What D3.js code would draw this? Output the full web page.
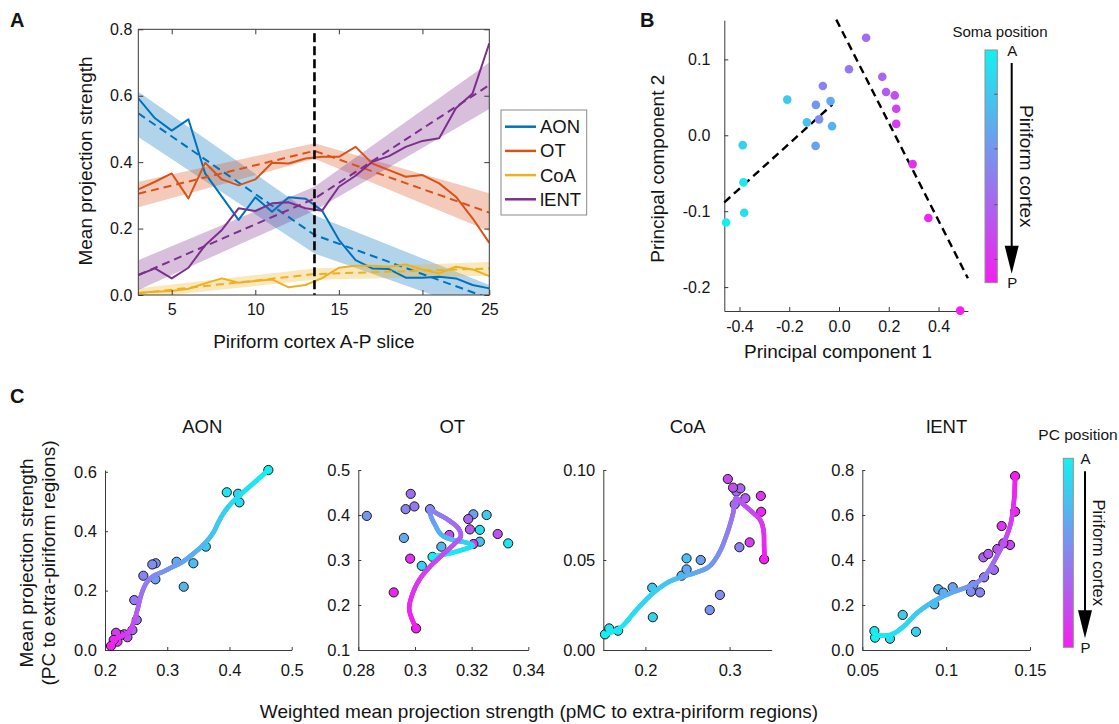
<!DOCTYPE html>
<html><head><meta charset="utf-8">
<script src="https://cdn.jsdelivr.net/npm/d3@7"></script>
<style>body{margin:0;background:#fff}svg{display:block}</style>
</head><body><svg id="fig" width="1119" height="724"></svg>
<script>
// ================= DATA =================
// Panel A: mean projection strength per piriform slice
const slices   = [3,4,5,6,7,8,9,10,11,12,13,14,15,16,17,18,19,20,21,22,23,24];
const aonMean  = [0.592,0.532,0.495,0.529,0.366,0.296,0.226,0.294,0.251,0.294,0.290,0.254,0.166,0.105,0.080,0.078,0.052,0.052,0.055,0.050,0.030,0.020];
const otMean   = [0.318,0.341,0.366,0.291,0.398,0.348,0.330,0.348,0.398,0.396,0.411,0.416,0.416,0.446,0.396,0.376,0.356,0.361,0.336,0.296,0.231,0.157];
const coaMean  = [0.007,0.010,0.012,0.019,0.035,0.050,0.037,0.042,0.047,0.023,0.030,0.051,0.082,0.088,0.088,0.085,0.092,0.077,0.065,0.085,0.077,0.057];
const lentMean = [0.060,0.080,0.050,0.082,0.150,0.196,0.261,0.253,0.276,0.279,0.261,0.254,0.326,0.359,0.401,0.418,0.446,0.464,0.472,0.562,0.607,0.758];
// piecewise linear fits and confidence bands
const fitX    = [3, 13.54, 24];
const aonFit  = [0.547,0.181,-0.010], aonLo  = [0.476,0.125,-0.060], aonHi  = [0.612,0.240,0.030];
const otFit   = [0.305,0.434,0.248],  otLo   = [0.264,0.410,0.192],  otHi   = [0.341,0.457,0.306];
const coaFit  = [0.005,0.063,0.080],  coaLo  = [-0.010,0.046,0.058], coaHi  = [0.020,0.080,0.099];
const lentFit = [0.060,0.290,0.632],  lentLo = [0.015,0.254,0.560],  lentHi = [0.105,0.326,0.700];
const splitSlice = [13.54];
const seriesNames = ["AON","OT","CoA","lENT"];
const aXTicks = [5,10,15,20,24], aXLabels = ["5","10","15","20","25"];
const aYTicks = [0,0.2,0.4,0.6,0.8], aYLabels = ["0.0","0.2","0.4","0.6","0.8"];

// Panel B: PCA (points ordered by slice 3..24)
const pc1 = [-0.454,-0.384,-0.381,-0.387,-0.208,-0.129,-0.028,-0.034,-0.094,-0.093,-0.080,-0.065,0.040,0.109,0.174,0.189,0.224,0.230,0.230,0.296,0.359,0.487];
const pc2 = [-0.115,-0.062,-0.102,-0.013,0.047,0.017,0.012,0.045,-0.014,0.040,0.021,0.065,0.087,0.1285,0.077,0.057,0.0525,0.035,0.015,-0.038,-0.109,-0.231];
const bFit1X = [-0.461,-0.027], bFit1Y = [-0.0884,0.0404];
const bFit2X = [-0.011,0.518],  bFit2Y = [0.1524,-0.1884];
const bXTicks = [-0.4,-0.2,0,0.2,0.4], bXLabels = ["-0.4","-0.2","0.0","0.2","0.4"];
const bYTicks = [-0.2,-0.1,0,0.1], bYLabels = ["-0.2","-0.1","0.0","0.1"];
const cbTickFrac = [0.19,0.425,0.665,0.90];

// Panel C: weighted mean (pMC) vs mean projection (PC), per slice 3..24
const cAonX  = [0.4625,0.3957,0.416,0.4138,0.362,0.342,0.3265,0.315,0.281,0.2815,0.276,0.2616,0.247,0.251,0.244,0.231,0.236,0.225,0.2177,0.220,0.214,0.2096];
const cAonY  = [0.606,0.531,0.497,0.526,0.348,0.292,0.213,0.297,0.238,0.292,0.288,0.250,0.168,0.101,0.067,0.053,0.043,0.050,0.058,0.028,0.034,0.0135];
const cOtX   = [0.3062,0.3329,0.3229,0.3024,0.3253,0.3229,0.3093,0.2961,0.3206,0.283,0.3053,0.2967,0.2998,0.2985,0.3188,0.3194,0.3292,0.3121,0.3206,0.2983,0.2925,0.3004];
const cOtY   = [0.307,0.337,0.367,0.287,0.400,0.3407,0.3296,0.349,0.4015,0.398,0.413,0.413,0.419,0.447,0.391,0.368,0.3578,0.3556,0.3356,0.303,0.228,0.148];
const cCoaX  = [0.152,0.1676,0.157,0.2088,0.2081,0.2489,0.2430,0.2489,0.2657,0.2764,0.2885,0.3116,0.3061,0.3081,0.3128,0.3187,0.3041,0.2979,0.3238,0.3371,0.3375,0.341];
const cCoaY  = [0.0087,0.0107,0.012,0.0182,0.0346,0.0509,0.0413,0.0448,0.050,0.0222,0.0306,0.0571,0.0809,0.088,0.0898,0.0843,0.0902,0.095,0.0598,0.0856,0.0768,0.0504];
const cLentX = [0.0576,0.0572,0.0665,0.0820,0.0741,0.0929,0.0953,0.0983,0.1039,0.1162,0.1148,0.1202,0.1226,0.1285,0.1222,0.1251,0.1305,0.1381,0.1341,0.1331,0.1411,0.1411];
const cLentY = [0.055,0.084,0.050,0.081,0.156,0.203,0.270,0.255,0.279,0.289,0.259,0.256,0.323,0.356,0.412,0.427,0.449,0.467,0.474,0.551,0.615,0.773];
// smoothed trend curves (x, y, position 0=A..1=P)
const sAonX = [0.208,0.2214,0.2365,0.2455,0.252,0.259,0.267,0.2777,0.2937,0.3098,0.3233,0.3394,0.358,0.373,0.386,0.400,0.417,0.4384,0.4625];
const sAonY = [0.011,0.043,0.056,0.090,0.135,0.191,0.227,0.249,0.264,0.281,0.295,0.320,0.354,0.392,0.445,0.487,0.522,0.561,0.606];
const sAonT = [1,0.93,0.86,0.78,0.69,0.61,0.55,0.5,0.46,0.42,0.38,0.33,0.27,0.22,0.17,0.13,0.09,0.05,0];
const sOtX = [0.3062,0.3112,0.3165,0.3204,0.3182,0.3135,0.3094,0.3071,0.3055,0.3053,0.3077,0.3118,0.3153,0.3162,0.3141,0.3100,0.3053,0.3015,0.2988,0.2980,0.3004];
const sOtY = [0.3074,0.3133,0.3222,0.3319,0.3385,0.3444,0.3556,0.3778,0.40,0.4126,0.4037,0.3889,0.3704,0.3533,0.3370,0.3133,0.2852,0.2556,0.2185,0.1889,0.1481];
const sOtT = [0,0.03,0.06,0.1,0.14,0.2,0.27,0.35,0.42,0.48,0.53,0.58,0.64,0.68,0.72,0.77,0.82,0.87,0.92,0.96,1];
const sCoaX = [0.152,0.1696,0.1893,0.2088,0.2285,0.2441,0.2599,0.2755,0.2873,0.2971,0.3041,0.3076,0.3147,0.3265,0.3364,0.3402,0.3410,0.3414];
const sCoaY = [0.0087,0.0121,0.0222,0.0315,0.0380,0.0407,0.0430,0.0463,0.0537,0.0648,0.0759,0.0843,0.0815,0.0768,0.0722,0.0667,0.0574,0.0504];
const sCoaT = [0,0.05,0.1,0.15,0.2,0.27,0.33,0.4,0.46,0.53,0.6,0.66,0.72,0.78,0.85,0.9,0.95,1];
const sLentX = [0.0572,0.0665,0.0745,0.0824,0.0923,0.1023,0.1123,0.1182,0.1242,0.1301,0.1351,0.1385,0.1405,0.1411];
const sLentY = [0.0667,0.0667,0.1037,0.163,0.215,0.252,0.279,0.299,0.341,0.415,0.489,0.563,0.667,0.773];
const sLentT = [0,0.05,0.1,0.17,0.25,0.32,0.4,0.47,0.55,0.65,0.75,0.84,0.93,1];

// ================= DRAWING =================
const svg = d3.select("#fig");
const FONT = "'Liberation Sans', Arial, Helvetica, sans-serif";
const ink = "#141414", axisCol = "#3a3a3a";
const LAB = 19, TICK = 16;
const cool = d3.interpolateRgb("#14f0f0", "#f51ef0");
const posT = d3.scaleLinear().domain([slices[0], slices[slices.length-1]]).range([0,1]);
const defs = svg.append("defs");

function txt(g, x, y, s, size, opts={}) {
  const t = g.append("text").attr("x", x).attr("y", y).text(s)
    .attr("font-family", FONT).attr("font-size", size).attr("fill", ink)
    .attr("text-anchor", opts.anchor || "middle");
  if (opts.weight) t.attr("font-weight", opts.weight);
  if (opts.rotate !== undefined) t.attr("transform", `rotate(${opts.rotate},${x},${y})`);
  return t;
}
function styleAxis(g, fs, keepDomain) {
  if (keepDomain) g.select(".domain").attr("stroke", axisCol).attr("stroke-width", 1);
  else g.select(".domain").remove();
  g.selectAll(".tick line").attr("stroke", axisCol).attr("stroke-width", 1);
  g.selectAll(".tick text").attr("font-size", fs).attr("font-family", FONT).attr("fill", ink);
}

// ---------- Panel A ----------
const A = {l:138.3, r:489.3, t:29.3, b:295};
const ax = d3.scaleLinear().domain([slices[0], slices[slices.length-1]]).range([A.l, A.r]);
const ay = d3.scaleLinear().domain([aYTicks[0], aYTicks[aYTicks.length-1]]).range([A.b, A.t]);
defs.append("clipPath").attr("id","clipA").append("rect")
  .attr("x",A.l).attr("y",A.t).attr("width",A.r-A.l).attr("height",A.b-A.t);
const gA = svg.append("g");
const colA = ["#0072BD","#D95319","#EDB120","#7E2F8E"];
const means = [aonMean, otMean, coaMean, lentMean];
const fits = [aonFit, otFit, coaFit, lentFit];
const los = [aonLo, otLo, coaLo, lentLo];
const his = [aonHi, otHi, coaHi, lentHi];
const gAc = gA.append("g").attr("clip-path","url(#clipA)");
means.forEach((m,k) => {
  gAc.append("path").datum(fitX.map((x,i)=>[x, los[k][i], his[k][i]]))
    .attr("d", d3.area().x(d=>ax(d[0])).y0(d=>ay(d[1])).y1(d=>ay(d[2])))
    .attr("fill", colA[k]).attr("fill-opacity", 0.3);
});
means.forEach((m,k) => {
  gAc.append("path").datum(fitX.map((x,i)=>[x, fits[k][i]]))
    .attr("d", d3.line().x(d=>ax(d[0])).y(d=>ay(d[1])))
    .attr("fill","none").attr("stroke", colA[k]).attr("stroke-width", 2).attr("stroke-dasharray","8,5");
  gAc.append("path").datum(slices.map((s,i)=>[s, m[i]]))
    .attr("d", d3.line().x(d=>ax(d[0])).y(d=>ay(d[1])))
    .attr("fill","none").attr("stroke", colA[k]).attr("stroke-width", 2).attr("stroke-linejoin","round");
});
gA.selectAll(".split").data(splitSlice).join("line")
  .attr("x1", d=>ax(d)).attr("x2", d=>ax(d)).attr("y1", A.t+4).attr("y2", A.b)
  .attr("stroke","#000").attr("stroke-width",2.6).attr("stroke-dasharray","9,4");
// axes
const aFmtX = (d,i)=>aXLabels[i], aFmtY = (d,i)=>aYLabels[i];
styleAxis(gA.append("g").attr("transform",`translate(0,${A.b})`)
  .call(d3.axisBottom(ax).tickValues(aXTicks).tickFormat(aFmtX).tickSizeInner(-5).tickSizeOuter(0).tickPadding(9)), TICK);
styleAxis(gA.append("g").attr("transform",`translate(0,${A.t})`)
  .call(d3.axisTop(ax).tickValues(aXTicks.slice(0,4)).tickFormat("").tickSizeInner(-5).tickSizeOuter(0)), TICK);
styleAxis(gA.append("g").attr("transform",`translate(${A.l},0)`)
  .call(d3.axisLeft(ay).tickValues(aYTicks).tickFormat(aFmtY).tickSizeInner(-5).tickSizeOuter(0).tickPadding(6)), TICK);
styleAxis(gA.append("g").attr("transform",`translate(${A.r},0)`)
  .call(d3.axisRight(ay).tickValues(aYTicks).tickFormat("").tickSizeInner(-5).tickSizeOuter(0)), TICK);
gA.append("rect").attr("x",A.l).attr("y",A.t).attr("width",A.r-A.l).attr("height",A.b-A.t)
  .attr("fill","none").attr("stroke",axisCol).attr("stroke-width",1);
txt(gA, 313.8, 347.5, "Piriform cortex A-P slice", LAB);
txt(gA, 91.7, 161, "Mean projection strength", LAB, {rotate:-90});
// legend
const lg = gA.append("g");
lg.append("rect").attr("x",501).attr("y",110).attr("width",85.7).attr("height",105)
  .attr("fill","#fff").attr("stroke","#8a8a8a").attr("stroke-width",1);
seriesNames.forEach((n,k)=>{
  const y = 126.7 + k*24.2;
  lg.append("line").attr("x1",505).attr("x2",536).attr("y1",y).attr("y2",y).attr("stroke",colA[k]).attr("stroke-width",2.5);
  txt(lg, 540, y+6.5, n, 18.5, {anchor:"start"});
});
txt(svg, 10, 27, "A", 20, {anchor:"start", weight:"bold"});

// ---------- Panel B ----------
const B = {l:724.3, r:967.9, t:20.2, b:311};
const bx = d3.scaleLinear().domain([-0.461, 0.518]).range([B.l, B.r]);
const by = d3.scaleLinear().domain([-0.2315, 0.1516]).range([B.b, B.t]);
const gB = svg.append("g");
styleAxis(gB.append("g").attr("transform",`translate(0,${B.b})`)
  .call(d3.axisBottom(bx).tickValues(bXTicks).tickFormat((d,i)=>bXLabels[i]).tickSizeInner(-4).tickSizeOuter(0).tickPadding(10)), TICK, true);
styleAxis(gB.append("g").attr("transform",`translate(${B.l},0)`)
  .call(d3.axisLeft(by).tickValues(bYTicks).tickFormat((d,i)=>bYLabels[i]).tickSizeInner(-4).tickSizeOuter(0).tickPadding(14)), TICK, true);
[[bFit1X,bFit1Y],[bFit2X,bFit2Y]].forEach(([xs,ys])=>{
  gB.append("path").datum(xs.map((x,i)=>[x,ys[i]]))
    .attr("d", d3.line().x(d=>bx(d[0])).y(d=>by(d[1])))
    .attr("fill","none").attr("stroke","#000").attr("stroke-width",2.4).attr("stroke-dasharray","8,5");
});
gB.selectAll(".pt").data(slices).join("circle")
  .attr("cx",(d,i)=>bx(pc1[i])).attr("cy",(d,i)=>by(pc2[i])).attr("r",4.3)
  .attr("fill", d=>cool(posT(d)));
txt(gB, 838, 358, "Principal component 1", LAB);
txt(gB, 664.2, 168.7, "Principal component 2", LAB, {rotate:-90});
txt(svg, 640, 27, "B", 20, {anchor:"start", weight:"bold"});

// colorbar helper
const grad = defs.append("linearGradient").attr("id","coolGrad").attr("x1",0).attr("y1",0).attr("x2",0).attr("y2",1);
[0,0.25,0.5,0.75,1].forEach(o=>grad.append("stop").attr("offset",o).attr("stop-color",cool(o)));
function colorbar(g, x, y, w, h, ticks, arrowX, labelSize, textSize, textX, titleTxt, titleX, titleY) {
  g.append("rect").attr("x",x).attr("y",y).attr("width",w).attr("height",h)
    .attr("fill","url(#coolGrad)").attr("stroke","#8f8f8f").attr("stroke-width",1);
  const cs = d3.scaleLinear().domain([0,1]).range([y, y+h]);
  g.selectAll(".cbt").data(ticks).join("line")
    .attr("x1",x+w-3).attr("x2",x+w).attr("y1",d=>cs(d)).attr("y2",d=>cs(d))
    .attr("stroke","#555").attr("stroke-width",1);
  txt(g, titleX, titleY, titleTxt, labelSize);
  txt(g, arrowX+0.5, y+6, "A", 15);
  txt(g, arrowX+0.5, y+h+5.5, "P", 15);
  const yTop = y+13, yTip = y+h-9;
  g.append("line").attr("x1",arrowX).attr("x2",arrowX).attr("y1",yTop).attr("y2",yTip-24)
    .attr("stroke","#000").attr("stroke-width",2);
  g.append("path").attr("d",`M${arrowX-7},${yTip-28}L${arrowX+7},${yTip-28}L${arrowX},${yTip}Z`).attr("fill","#000");
  txt(g, textX, y+h/2, "Piriform cortex", textSize, {rotate:90});
}
colorbar(gB, 985, 50, 12.3, 232.7, cbTickFrac, 1011.7, 15, 19, 1020.3, "Soma position", 1000, 37);

// ---------- Panel C ----------
const gC = svg.append("g");
txt(svg, 10, 403, "C", 20, {anchor:"start", weight:"bold"});
function gradCurve(g, pts, ts) {
  const p = g.append("path").attr("d", d3.line().curve(d3.curveCatmullRom.alpha(0.5))(pts)).attr("fill","none");
  const node = p.node(), L = node.getTotalLength();
  const N = Math.max(80, Math.round(L/1.2));
  const samp = d3.range(N+1).map(i=>{const q=node.getPointAtLength(L*i/N); return [q.x,q.y];});
  const ci = [0]; let j = 0;
  for (let k=1;k<pts.length;k++){
    let best=j, bd=Infinity;
    for (let m=j;m<=N;m++){
      const d=(samp[m][0]-pts[k][0])**2+(samp[m][1]-pts[k][1])**2;
      if (d<bd){bd=d;best=m;}
      if (d>bd+250 && m>best+4) break;
    }
    ci.push(Math.max(best, ci[ci.length-1])); j=best;
  }
  ci[ci.length-1]=N;
  const ts2 = d3.scaleLinear().domain(ci).range(ts).clamp(true);
  p.remove();
  for (let i=0;i<N;i++){
    g.append("line").attr("x1",samp[i][0]).attr("y1",samp[i][1]).attr("x2",samp[i+1][0]).attr("y2",samp[i+1][1])
      .attr("stroke", cool(ts2(i+0.5))).attr("stroke-width",4.6).attr("stroke-linecap","round");
  }
}
function panelC(cfg) {
  const g = gC.append("g");
  const x = d3.scaleLinear().domain(cfg.xd).range([cfg.l, cfg.r]);
  const y = d3.scaleLinear().domain(cfg.yd).range([650, cfg.top]);
  styleAxis(g.append("g").attr("transform","translate(0,650)")
    .call(d3.axisBottom(x).tickValues(cfg.xt).tickFormat((d,i)=>cfg.xl[i]).tickSizeInner(-3).tickSizeOuter(0).tickPadding(14)), 16.5, true);
  styleAxis(g.append("g").attr("transform",`translate(${cfg.l},0)`)
    .call(d3.axisLeft(y).tickValues(cfg.yt).tickFormat((d,i)=>cfg.yl[i]).tickSizeInner(-3).tickSizeOuter(0).tickPadding(8)), 16.5, true);
  g.selectAll(".pt").data(slices).join("circle")
    .attr("cx",(d,i)=>x(cfg.px[i])).attr("cy",(d,i)=>y(cfg.py[i])).attr("r",4.6)
    .attr("fill", d=>cool(posT(d))).attr("stroke","#1a1a1a").attr("stroke-width",1);
  gradCurve(g, cfg.sx.map((v,i)=>[x(v), y(cfg.sy[i])]), cfg.st);
  txt(g, cfg.tx, 433, cfg.title, 18.5);
}
panelC({l:105, r:291.7, top:470, xd:[0.2,0.5], yd:[0,0.606], xt:[0.2,0.3,0.4,0.5], xl:["0.2","0.3","0.4","0.5"],
  yt:[0,0.2,0.4,0.6], yl:["0.0","0.2","0.4","0.6"], px:cAonX, py:cAonY, sx:sAonX, sy:sAonY, st:sAonT, title:"AON", tx:202.3});
panelC({l:358.3, r:528.3, top:470, xd:[0.28,0.34], yd:[0.1,0.5], xt:[0.28,0.3,0.32,0.34], xl:["0.28","0.3","0.32","0.34"],
  yt:[0.1,0.2,0.3,0.4,0.5], yl:["0.1","0.2","0.3","0.4","0.5"], px:cOtX, py:cOtY, sx:sOtX, sy:sOtY, st:sOtT, title:"OT", tx:452.3});
panelC({l:603.3, r:771.7, top:470, xd:[0.15,0.35], yd:[0,0.1], xt:[0.2,0.3], xl:["0.2","0.3"],
  yt:[0,0.05,0.1], yl:["0.00","0.05","0.10"], px:cCoaX, py:cCoaY, sx:sCoaX, sy:sCoaY, st:sCoaT, title:"CoA", tx:687.7});
panelC({l:862.3, r:1030, top:470, xd:[0.05,0.15], yd:[0,0.8], xt:[0.05,0.1,0.15], xl:["0.05","0.1","0.15"],
  yt:[0,0.2,0.4,0.6,0.8], yl:["0.0","0.2","0.4","0.6","0.8"], px:cLentX, py:cLentY, sx:sLentX, sy:sLentY, st:sLentT, title:"lENT", tx:946.7});
txt(gC, 33.4, 563, "Mean projection strength", LAB, {rotate:-90});
txt(gC, 55, 563, "(PC to extra-piriform regions)", LAB, {rotate:-90});
txt(gC, 539, 717.5, "Weighted mean projection strength (pMC to extra-piriform regions)", LAB);
colorbar(gC, 1063.3, 458.3, 10, 189, [], 1085, 15.5, 16.5, 1093.2, "PC position", 1078, 440);
</script></body></html>
